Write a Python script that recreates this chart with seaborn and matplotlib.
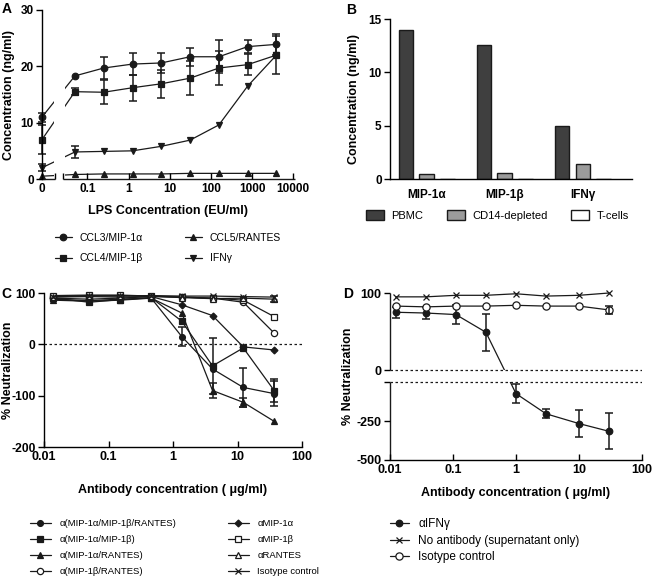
import numpy as np
import pandas as pd
import seaborn as sns
import matplotlib.pyplot as plt
from matplotlib.transforms import blended_transform_factory

# ---- Panel A: LPS dose response (ng/ml) ----
lps_conc = [0, 0.05, 0.25, 1.25, 6.25, 31.25, 156.25, 781.25, 3906.25]
ccl3 = [11.0, 18.3, 19.7, 20.4, 20.6, 21.7, 21.7, 23.5, 23.9]
ccl3_err = [0.8, 0, 1.9, 1.9, 1.7, 1.6, 2.9, 1.1, 1.8]
ccl4 = [7.0, 15.5, 15.4, 16.2, 16.9, 17.9, 19.7, 20.3, 22.0]
ccl4_err = [2.6, 0.6, 2.1, 2.3, 2.5, 3.0, 3.0, 1.9, 3.3]
ccl5 = [0.5, 0.8, 0.9, 0.9, 0.9, 1.0, 1.0, 1.0, 1.0]
ccl5_err = [0, 0, 0, 0, 0, 0, 0, 0, 0]
ifng = [2.0, 4.8, 4.9, 5.0, 5.8, 6.9, 9.6, 16.5, 22.0]
ifng_err = [0.6, 1.1, 0, 0, 0, 0, 0, 0, 0]

# ---- Panel B: cell populations ----
cytokines = ['MIP-1α', 'MIP-1β', 'IFNγ']
cell_types = ['PBMC', 'CD14-depleted', 'T-cells']
pbmc = [14.0, 12.6, 5.0]
cd14_depleted = [0.45, 0.6, 1.4]
t_cells = [0, 0, 0]

# ---- Panel C: neutralization by antibody mixes ----
ab_conc_c = [0.014, 0.05, 0.15, 0.46, 1.37, 4.1, 12.3, 37]
c_a_b_r = [88, 85, 88, 90, 15, -48, -84, -96]
c_a_b_r_err = [0, 0, 0, 0, 19, 0, 38, 25]
c_a_b = [90, 82, 87, 91, 45, -42, -7, -90]
c_a_b_err = [0, 0, 0, 0, 0, 55, 0, 22]
c_a_r = [86, 84, 86, 90, 61, -90, -113, -150]
c_a_r_err = [0, 0, 0, 0, 0, 14, 9, 0]
c_b_r = [92, 93, 92, 93, 92, 90, 82, 22]
c_mip1a = [90, 88, 90, 93, 77, 56, -5, -11]
c_mip1b = [95, 96, 96, 94, 92, 90, 86, 54]
c_rantes = [93, 94, 95, 94, 91, 89, 90, 88]
c_rantes_err = [0, 0, 0, 0, 0, 0, 0, 6]
c_isotype = [93, 95, 94, 95, 94, 94, 93, 92]

# ---- Panel D: anti-IFNγ ----
ab_conc_d = [0.0123, 0.037, 0.111, 0.333, 1, 3, 10, 30]
d_ifng = [75, 74, 72, 49, -72, -202, -265, -315]
d_ifng_err = [7, 8, 12, 24, 62, 28, 85, 117]
d_no_ab = [95, 95, 97, 97, 99, 96, 97, 100]
d_isotype = [83, 82, 83, 83, 84, 83, 83, 78]
d_isotype_err = [0, 0, 0, 0, 0, 0, 0, 5]

W, H = 653, 583


def fx(px):
    return px / W


def fy(py):
    return 1 - py / H


def box(left, top, right, bottom):
    return [fx(left), fy(bottom), (right - left) / W, (bottom - top) / H]


# broken x axis for panel A: 0 sits left of the log decades
ZERO_POS = -2.1


def lps_fwd(x):
    x = np.asarray(x, dtype=float)
    return np.where(x > 0, np.log10(np.where(x > 0, x, 1.0)), ZERO_POS)


def lps_inv(s):
    s = np.asarray(s, dtype=float)
    return np.where(s > ZERO_POS + 1e-6, 10.0 ** s, 0.0)


# segmented y axis for panel D
GAP = 16.2
K = 0.2013
LOWER_ZERO = -1e-9


def seg_fwd(y):
    y = np.asarray(y, dtype=float)
    return np.where(y >= 0, y, y * K - GAP)


def seg_inv(s):
    s = np.asarray(s, dtype=float)
    return np.where(s >= 0, s, np.where(s <= -GAP, (s + GAP) / K, s / GAP * 1e-9))


def draw_series(ax, x, y, marker, filled=True, ms=4.5, err=None):
    sns.lineplot(x=x, y=y, ax=ax, color='k', lw=0.9, marker=marker, markersize=ms,
                 markerfacecolor='k' if filled else 'white', markeredgecolor='k',
                 markeredgewidth=0.9, errorbar=None, legend=False, clip_on=False)
    line = ax.lines[-1]
    if err is not None:
        x, y, err = np.asarray(x), np.asarray(y), np.asarray(err)
        m = err > 0
        if m.any():
            ax.errorbar(x[m], y[m], yerr=err[m], fmt='none', ecolor='k', elinewidth=1.1,
                        capsize=3, capthick=1.1, clip_on=False)
    return line


sns.set_theme(style='ticks', rc={
    'axes.edgecolor': 'black', 'axes.linewidth': 1.0,
    'xtick.color': 'black', 'ytick.color': 'black', 'text.color': 'black',
    'axes.labelcolor': 'black', 'xtick.major.width': 1.0, 'ytick.major.width': 1.0,
    'xtick.minor.width': 1.0, 'xtick.major.size': 4, 'ytick.major.size': 4,
    'xtick.minor.size': 4, 'ytick.minor.size': 4,
})
plt.rcParams['font.family'] = ['Liberation Sans', 'DejaVu Sans']
plt.rcParams['font.weight'] = 'bold'
plt.rcParams['axes.labelweight'] = 'bold'
plt.rcParams['axes.unicode_minus'] = False

fig = plt.figure(figsize=(6.53, 5.83), dpi=100)

# ================= A =================
axA = fig.add_axes(box(42, 10, 295, 179))
axA.set_xscale('function', functions=(lps_fwd, lps_inv))
handlesA = [
    draw_series(axA, lps_conc, ccl3, 'o', ms=4.7, err=ccl3_err),
    draw_series(axA, lps_conc, ccl4, 's', ms=5.0, err=ccl4_err),
    draw_series(axA, lps_conc, ccl5, '^', ms=4.7, err=ccl5_err),
    draw_series(axA, lps_conc, ifng, 'v', ms=4.7, err=ifng_err),
]
axA.set_xlim(0, 11000)
axA.set_ylim(0, 30)
# gap of the axis break
axA.axvspan(0.0155, 0.028, color='white', zorder=2.2, lw=0)
axA.set_axisbelow(False)
sns.despine(ax=axA)
axA.spines['bottom'].set_visible(False)
transA = blended_transform_factory(axA.transData, axA.transAxes)
for seg in ([0, 0.0165], [0.0256, 11000]):
    axA.plot(seg, [0, 0], transform=transA, color='k', lw=1.0, clip_on=False,
             zorder=2.5, solid_capstyle='butt')
axA.set_xticks([0, 0.1, 1, 10, 100, 1000, 10000],
               labels=['0', '0.1', '1', '10', '100', '1000', '10000'])
axA.set_xticks([0.0165, 0.0256], minor=True)
axA.set_yticks([0, 10, 20, 30])
axA.tick_params(axis='x', which='both', direction='in', length=4, pad=3, labelsize=8.5)
axA.tick_params(axis='y', direction='out', length=4, pad=2, labelsize=8.5)
axA.set_xlabel('LPS Concentration (EU/ml)', fontsize=9, labelpad=7)
axA.set_ylabel('Concentration (ng/ml)', fontsize=9, labelpad=4)

fig.legend(handlesA, ['CCL3/MIP-1α', 'CCL4/MIP-1β', 'CCL5/RANTES', 'IFNγ'],
           loc='upper left', bbox_to_anchor=(fx(55), fy(233)), ncol=2, frameon=False,
           borderpad=0, borderaxespad=0, handlelength=1.6, handletextpad=0.8,
           columnspacing=4.0, labelspacing=1.0, prop={'size': 7.5, 'weight': 'normal'})

# ================= B =================
axB = fig.add_axes(box(390, 19, 632, 179))
dfB = pd.DataFrame({
    'cytokine': cytokines * 3,
    'cells': np.repeat(cell_types, len(cytokines)),
    'conc': pbmc + cd14_depleted + t_cells,
})
sns.barplot(data=dfB, x='cytokine', y='conc', hue='cells', hue_order=cell_types,
            palette=['#3f3f3f', '#9b9b9b', 'white'], saturation=1, edgecolor='k',
            linewidth=1.0, width=0.8, gap=0.3, errorbar=None, ax=axB)
handlesB, labelsB = axB.get_legend_handles_labels()
axB.get_legend().remove()
sns.despine(ax=axB)
axB.set_xlim(-0.47, 2.63)
axB.set_ylim(0, 15)
axB.set_yticks([0, 5, 10, 15])
axB.tick_params(axis='x', length=0, pad=7, labelsize=8.5)
axB.tick_params(axis='y', direction='out', length=4, pad=2, labelsize=8.5)
axB.set_xlabel('')
axB.set_ylabel('Concentration (ng/ml)', fontsize=9, labelpad=6)
fig.legend(handlesB, labelsB, loc='upper left', bbox_to_anchor=(fx(366), fy(210)),
           ncol=3, frameon=False, borderpad=0, borderaxespad=0, handlelength=1.6,
           handleheight=1.0, handletextpad=0.7, columnspacing=2.1,
           prop={'size': 8, 'weight': 'normal'})

# ================= C =================
axC = fig.add_axes(box(44, 293, 302, 447))
axC.set_xscale('log')
c_styles = [
    ('α(MIP-1α/MIP-1β/RANTES)', c_a_b_r, c_a_b_r_err, 'o', True, 4.2),
    ('α(MIP-1α/MIP-1β)', c_a_b, c_a_b_err, 's', True, 4.2),
    ('α(MIP-1α/RANTES)', c_a_r, c_a_r_err, '^', True, 4.2),
    ('α(MIP-1β/RANTES)', c_b_r, None, 'o', False, 4.5),
    ('αMIP-1α', c_mip1a, None, 'D', True, 3.5),
    ('αMIP-1β', c_mip1b, None, 's', False, 4.5),
    ('αRANTES', c_rantes, c_rantes_err, '^', False, 4.2),
    ('Isotype control', c_isotype, None, 'x', True, 4.2),
]
handlesC = [draw_series(axC, ab_conc_c, y, mk, filled=f, ms=ms, err=e)
            for _, y, e, mk, f, ms in c_styles]
axC.axhline(0, color='k', lw=0.9, ls=(0, (2, 2)), zorder=1)
axC.set_xlim(0.01, 100)
axC.set_ylim(-200, 100)
sns.despine(ax=axC)
axC.set_xticks([0.01, 0.1, 1, 10, 100], labels=['0.01', '0.1', '1', '10', '100'])
axC.xaxis.set_minor_locator(plt.NullLocator())
axC.set_yticks([-200, -100, 0, 100])
axC.tick_params(axis='x', direction='in', length=4, pad=3, labelsize=9)
axC.tick_params(axis='y', direction='out', length=4, pad=2, labelsize=8.7)
axC.set_xlabel('Antibody concentration ( μg/ml)', fontsize=9, labelpad=15)
axC.set_ylabel('% Neutralization', fontsize=9)
axC.yaxis.set_label_coords(-0.118, 0.5)
fig.legend(handlesC, [s[0] for s in c_styles], loc='upper left',
           bbox_to_anchor=(fx(30), fy(519)), ncol=2, frameon=False, borderpad=0,
           borderaxespad=0, handlelength=2.2, handletextpad=0.9, columnspacing=5.5,
           labelspacing=0.75, prop={'size': 6.8, 'weight': 'normal'})

# ================= D =================
axD = fig.add_axes(box(390, 293, 642, 460))
axD.set_xscale('log')
axD.set_yscale('function', functions=(seg_fwd, seg_inv))
handlesD = [
    draw_series(axD, ab_conc_d, d_ifng, 'o', ms=4.7, err=d_ifng_err),
    draw_series(axD, ab_conc_d, d_no_ab, 'x', ms=4.7),
    draw_series(axD, ab_conc_d, d_isotype, 'o', filled=False, ms=5.2, err=d_isotype_err),
]
axD.set_xlim(0.01, 100)
axD.set_ylim(-500, 100)
axD.axhspan(LOWER_ZERO, 0, color='white', zorder=2.2, lw=0)
for yv in (0, LOWER_ZERO):
    axD.axhline(yv, color='k', lw=0.9, ls=(0, (2, 2)), zorder=3)
axD.set_axisbelow(False)
sns.despine(ax=axD)
axD.spines['left'].set_visible(False)
transD = blended_transform_factory(axD.transAxes, axD.transData)
for seg in ([0, 100], [LOWER_ZERO, -500]):
    axD.plot([0, 0], seg, transform=transD, color='k', lw=1.0, clip_on=False,
             zorder=2.5, solid_capstyle='butt')
axD.set_xticks([0.01, 0.1, 1, 10, 100], labels=['0.01', '0.1', '1', '10', '100'])
axD.xaxis.set_minor_locator(plt.NullLocator())
axD.set_yticks([-500, -250, LOWER_ZERO, 0, 100], labels=['-500', '-250', '', '0', '100'])
axD.yaxis.set_minor_locator(plt.NullLocator())
axD.tick_params(axis='x', direction='in', length=4, pad=3, labelsize=9)
axD.tick_params(axis='y', direction='out', length=4, pad=2, labelsize=9)
axD.set_xlabel('Antibody concentration ( μg/ml)', fontsize=9, labelpad=8)
axD.set_ylabel('% Neutralization', fontsize=9, labelpad=2)
fig.legend(handlesD, ['αIFNγ', 'No antibody (supernatant only)', 'Isotype control'],
           loc='upper left', bbox_to_anchor=(fx(390), fy(518)), ncol=1, frameon=False,
           borderpad=0, borderaxespad=0, handlelength=1.6, handletextpad=0.8,
           labelspacing=0.4, prop={'size': 8.5, 'weight': 'normal'})

# panel letters
for letter, (px, py) in zip('ABCD', [(2, 2), (346, 3), (1, 287), (343, 287)]):
    fig.text(fx(px), fy(py), letter, fontsize=10, fontweight='bold', ha='left', va='top')

fig.savefig('out.png', dpi=100)
